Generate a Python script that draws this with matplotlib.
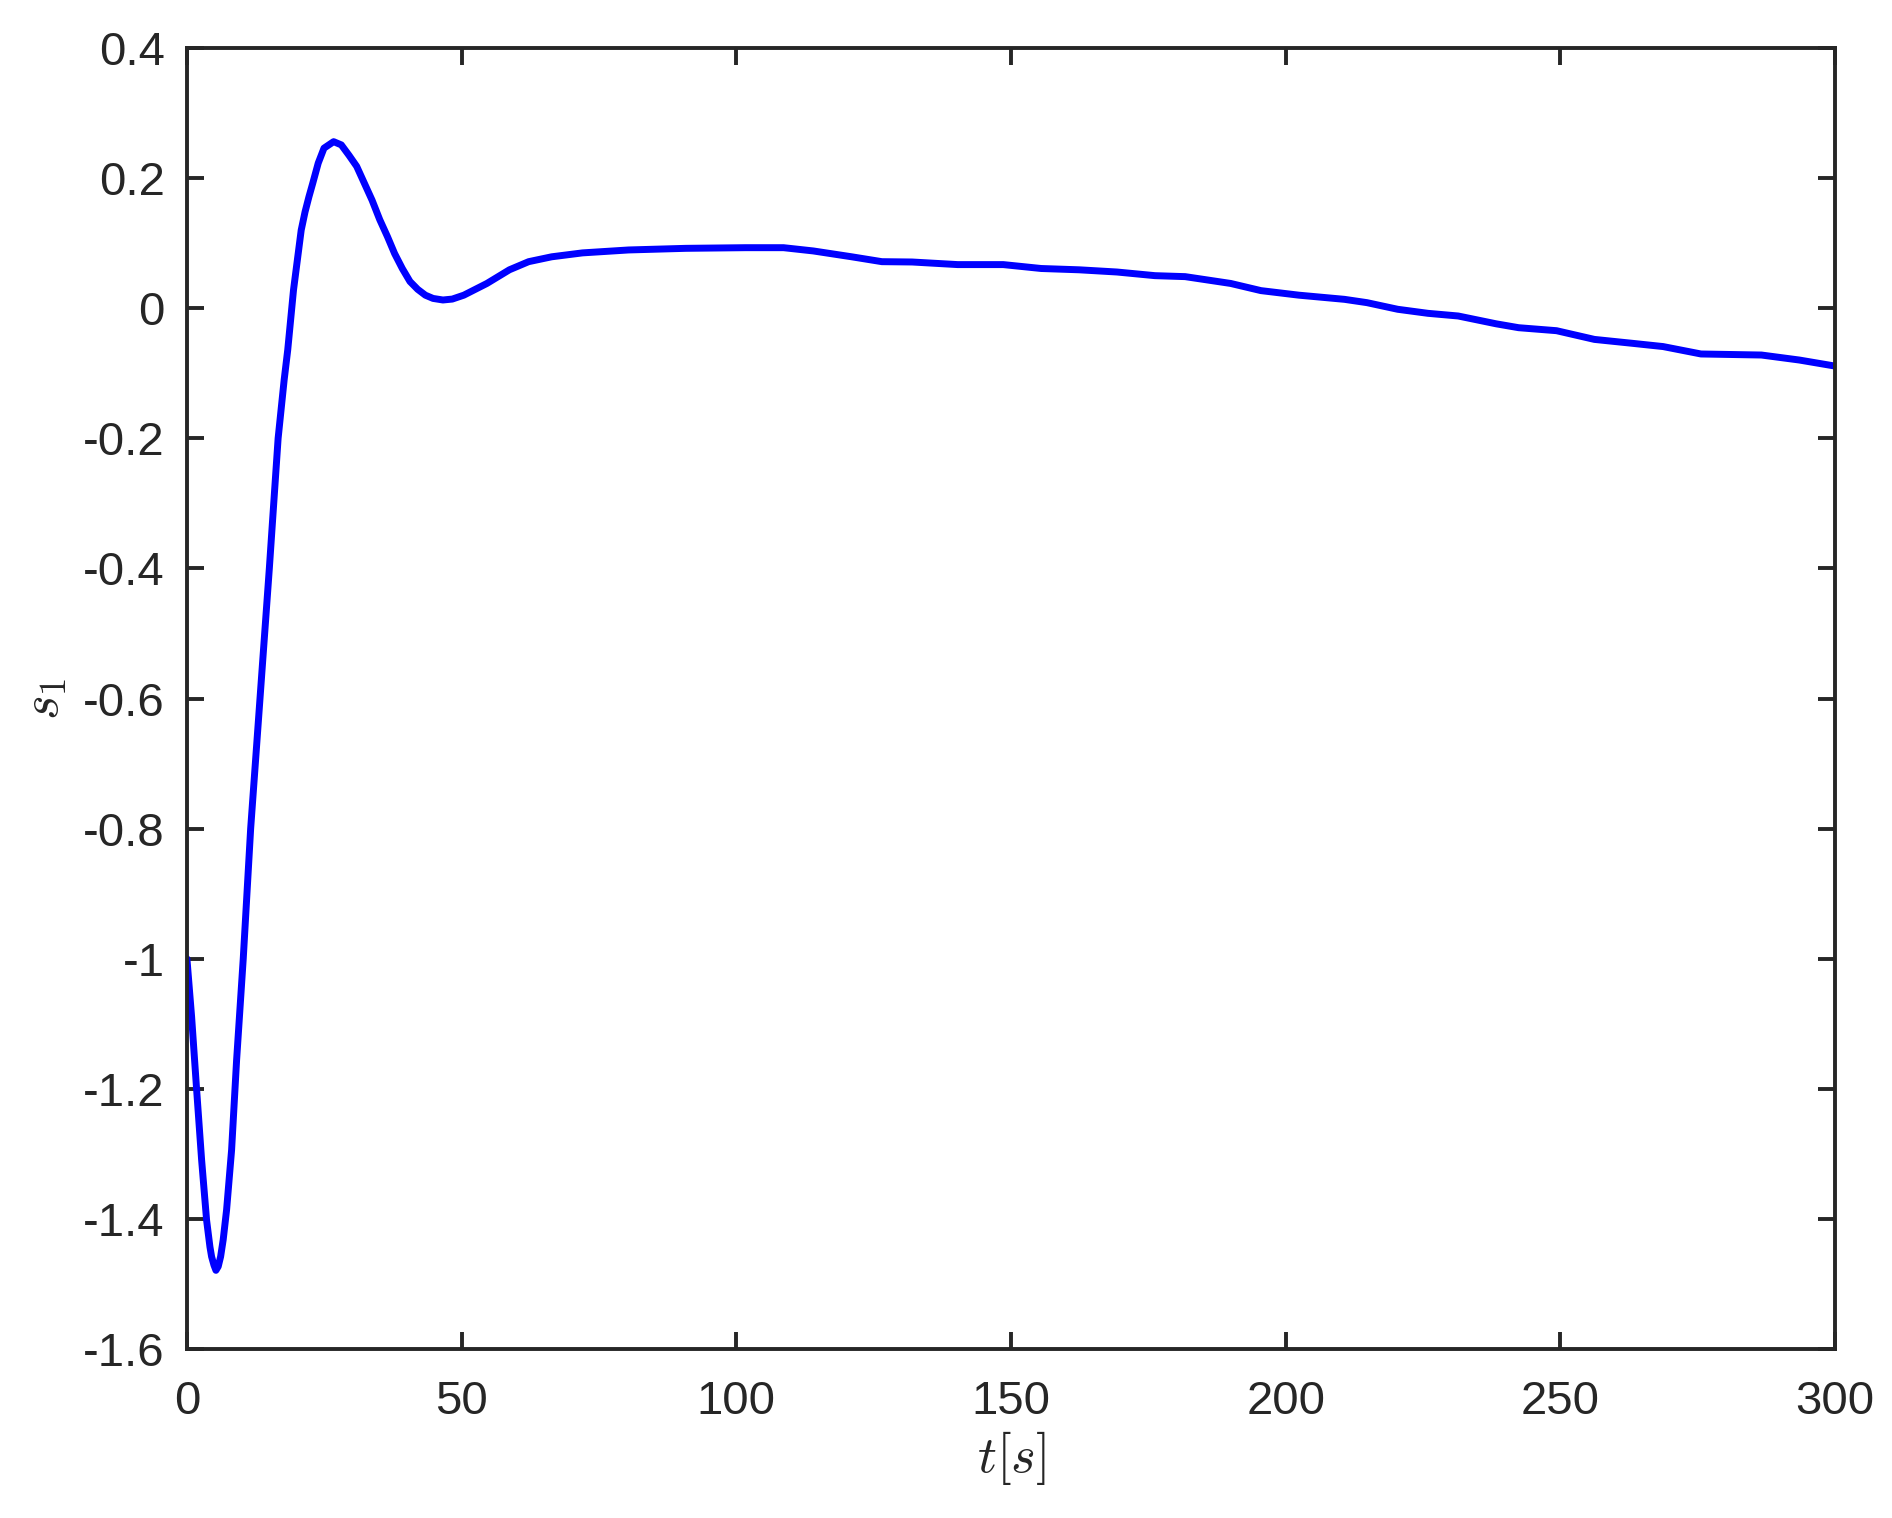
import matplotlib
matplotlib.use("Agg")
import matplotlib.pyplot as plt
import numpy as np

# values
t = [0, 0.85, 1.77, 2.67, 3.58, 4.19, 4.49, 4.92, 5.28, 5.7, 6.13, 6.6,
     7.22, 8.13, 9.04, 10.25, 11.6, 13.3, 15.0, 16.6, 17.7,
     18.35, 19.4, 20.8, 21.5, 22.2, 22.9, 23.9, 24.95, 26.7, 28.1, 29.5,
     30.9, 32.3, 33.7, 35.1, 36.5, 37.8, 39.2, 40.6, 42.0, 43.4, 44.8, 46.6,
     48.3, 50.4, 54.6, 58.7, 62.2, 66.4, 72.0, 80.4, 90.8, 101.7, 108.6,
     114.0, 121.0, 126.5, 132.0, 140.3, 148.6, 155.5, 162.4, 169.3, 176.2,
     181.7, 190.0, 195.5, 202.4, 210.7, 214.8, 220.4, 225.9, 231.4, 238.3,
     242.4, 249.3, 256.2, 263.1, 268.7, 275.6, 286.6, 293.5, 300.0]
s1 = [-1.0, -1.089, -1.202, -1.309, -1.402, -1.443, -1.458, -1.471, -1.479,
      -1.473, -1.458, -1.432, -1.386, -1.294, -1.156, -1.0,
      -0.8, -0.6, -0.4, -0.2, -0.11, -0.064, 0.028, 0.120, 0.148, 0.171,
      0.192, 0.223, 0.246, 0.256, 0.251, 0.235, 0.218, 0.192, 0.166, 0.136,
      0.110, 0.084, 0.061, 0.041, 0.029, 0.020, 0.015, 0.0126, 0.014, 0.020,
      0.038, 0.059, 0.0715, 0.079, 0.085, 0.0895, 0.092, 0.093, 0.093, 0.088,
      0.079, 0.0715, 0.071, 0.067, 0.067, 0.061, 0.059, 0.0556, 0.050, 0.0485,
      0.038, 0.027, 0.020, 0.0136, 0.0085, -0.0017, -0.0079, -0.012, -0.024,
      -0.030, -0.0346, -0.048, -0.054, -0.059, -0.0704, -0.072, -0.0797,
      -0.089]

xticks = [0, 50, 100, 150, 200, 250, 300]
yticks = [0.4, 0.2, 0, -0.2, -0.4, -0.6, -0.8, -1, -1.2, -1.4, -1.6]
ytick_labels = ["0.4", "0.2", "0", "-0.2", "-0.4", "-0.6", "-0.8", "-1",
                "-1.2", "-1.4", "-1.6"]

plt.rcParams["font.family"] = ["Liberation Sans", "DejaVu Sans"]
plt.rcParams["mathtext.fontset"] = "cm"

dark = "#262626"
fig = plt.figure(figsize=(18.92, 15.18), dpi=100)
ax = fig.add_axes([0.0988, 0.1113, 0.9699 - 0.0988, 0.9684 - 0.1113])

ax.plot(t, s1, color="#0000ff", linewidth=5, solid_joinstyle="round",
        solid_capstyle="round")

ax.set_xlim(0, 300)
ax.set_ylim(-1.6, 0.4)
ax.set_xticks(xticks)
ax.set_xticklabels([str(v) for v in xticks])
ax.set_yticks(yticks)
ax.set_yticklabels(ytick_labels)

for sp in ax.spines.values():
    sp.set_linewidth(2.8)
    sp.set_color(dark)
ax.tick_params(axis="both", direction="in", length=12.5, width=2.8,
               color=dark, labelcolor=dark, labelsize=34,
               top=True, right=True)
ax.tick_params(axis="x", pad=22)
ax.tick_params(axis="y", pad=16)

ax.set_xlabel(r"$t[s]$", fontsize=38, color=dark, labelpad=4)
ax.set_ylabel(r"$s_1$", fontsize=38, color=dark, labelpad=10)

fig.savefig("out.png", dpi=100, facecolor="white")
